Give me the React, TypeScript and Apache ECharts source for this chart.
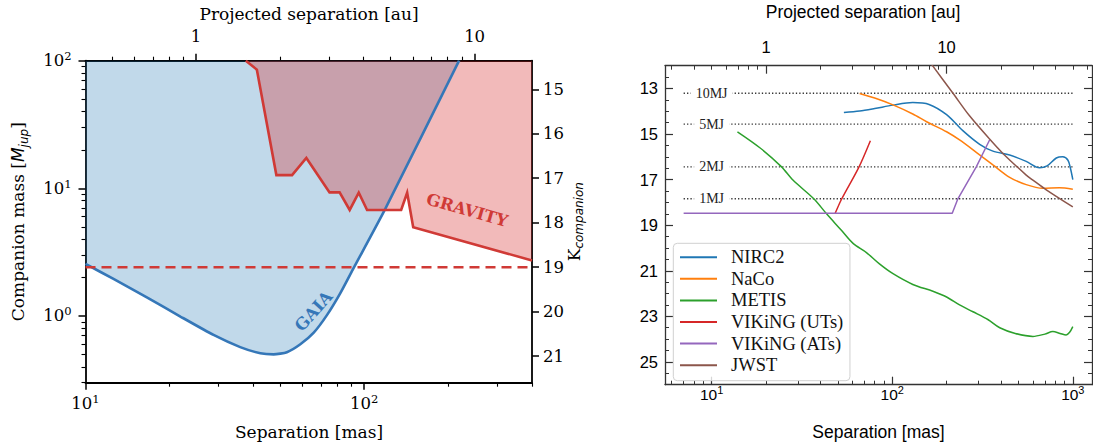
import React, { useEffect, useRef } from 'react';
import * as echarts from 'echarts';

const L = Math.log10;

// ---------- Left panel data ----------
const gaiaSep = [10, 12.6, 16.6, 21.9, 28.8, 35.9, 42.4, 47.3, 52.8, 59.0, 65.9, 73.6, 82.1, 91.6, 119, 219];
const gaiaMass = [2.56, 1.95, 1.40, 0.99, 0.71, 0.57, 0.51, 0.50, 0.52, 0.60, 0.74, 1.02, 1.51, 2.37, 6.9, 100];
const gravitySep = [37.6, 41.2, 48.4, 55.1, 62.0, 75.1, 81.6, 88.7, 95.6, 102.4, 135.7, 142.6, 149.9, 400];
const gravityMass = [100, 85.1, 12.7, 12.7, 17.3, 9.3, 9.3, 6.77, 9.24, 6.77, 6.77, 9.24, 4.96, 2.72];
const limitMass = 2.41;
const leftSepRange = [10, 400];
const leftMassRange = [0.3, 100];
const kRange = [14.357, 21.6];
const kTicks = [15, 16, 17, 18, 19, 20, 21];
const masPerAuLeft = 24.9;
const gaiaLabelAt = [65.9, 1.09];
const gravityLabelAt = [234, 6.74];

// ---------- Right panel data ----------
const nirc2Sep = [54, 66, 80, 101, 130, 160, 200, 246, 305, 361, 447, 552, 655, 720, 810, 880, 940, 970, 1000];
const nirc2Mag = [14.05, 13.99, 13.88, 13.73, 13.62, 13.7, 14.15, 14.85, 15.45, 15.75, 15.92, 16.2, 16.48, 16.4, 16.05, 16.0, 16.15, 16.5, 17.0];
const nacoSep = [66, 80, 101, 130, 155, 200, 236, 292, 361, 447, 552, 682, 843, 1000];
const nacoMag = [13.22, 13.42, 13.72, 14.12, 14.46, 14.9, 15.26, 15.8, 16.35, 16.9, 17.22, 17.38, 17.36, 17.42];
const metisSep = [13.9, 18.5, 24.4, 28.2, 36.8, 43.3, 52, 60.7, 72, 85, 101, 130, 168, 200, 236, 280, 340, 394, 480, 601, 700, 775, 850, 918, 960, 1000];
const metisMag = [14.9, 15.6, 16.44, 17.02, 17.84, 18.5, 19.2, 19.8, 20.2, 20.7, 21.13, 21.6, 21.9, 22.15, 22.5, 22.8, 23.15, 23.5, 23.75, 23.88, 23.78, 23.67, 23.75, 23.82, 23.7, 23.45];
const vikingUTSep = [48.2, 52.4, 65.3, 75.7];
const vikingUTMag = [18.5, 17.86, 16.46, 15.29];
const vikingATSep = [7, 215, 231, 292, 346];
const vikingATMag = [18.48, 18.48, 17.84, 16.44, 15.26];
const jwstSep = [150, 168, 217, 268, 346, 410, 552, 601, 713, 1000];
const jwstMag = [11.5, 12.02, 13.21, 14.2, 15.22, 15.85, 16.8, 17.02, 17.45, 18.2];
const mjNames = ['10MJ', '5MJ', '2MJ', '1MJ'];
const mjMags = [13.21, 14.56, 16.44, 17.84];
const mjSepRange = [7, 1000];
const mjLabelSep = 10;
const rightSepRange = [5.52, 1277];
const rightMagRange = [12, 26];
const magMajorTicks = [13, 15, 17, 19, 21, 23, 25];
const masPerAuRight = 20;

const instruments = [
  { name: 'NIRC2', sep: nirc2Sep, mag: nirc2Mag, color: '#1f77b4', smooth: 0.3 },
  { name: 'NaCo', sep: nacoSep, mag: nacoMag, color: '#ff7f0e', smooth: 0.3 },
  { name: 'METIS', sep: metisSep, mag: metisMag, color: '#2ca02c', smooth: 0.3 },
  { name: 'VIKiNG (UTs)', sep: vikingUTSep, mag: vikingUTMag, color: '#d62728', smooth: 0.3 },
  { name: 'VIKiNG (ATs)', sep: vikingATSep, mag: vikingATMag, color: '#9467bd', smooth: false },
  { name: 'JWST', sep: jwstSep, mag: jwstMag, color: '#8c564b', smooth: 0.3 },
];

// ---------- helpers ----------
const pairs = (xs: number[], ys: number[]) => xs.map((x, i) => [x, ys[i]]);
function decades(lo: number, hi: number) {
  const out: number[] = [];
  for (let e = Math.floor(L(lo)) - 1; e <= Math.ceil(L(hi)) + 1; e++) {
    const v = Math.pow(10, e);
    if (v >= lo * 0.99999 && v <= hi * 1.00001) out.push(L(v));
  }
  return out;
}
function minors(lo: number, hi: number) {
  const out: number[] = [];
  for (let e = Math.floor(L(lo)) - 1; e <= Math.ceil(L(hi)) + 1; e++) {
    for (let k = 2; k <= 9; k++) {
      const v = k * Math.pow(10, e);
      if (v >= lo * 0.99999 && v <= hi * 1.00001) out.push(L(v));
    }
  }
  return out;
}
function magMinors(lo: number, hi: number) {
  const out: number[] = [];
  for (let v = lo; v <= hi + 1e-9; v += 0.5) {
    if (!magMajorTicks.includes(v)) out.push(v);
  }
  return out;
}

const leftFont = "'DejaVu Serif', serif";
const rightFont = "'Liberation Sans', Arial, Helvetica, sans-serif";
const legendFont = "'Liberation Serif', 'Times New Roman', serif";

const supRich = (family: string, size: number, sub: number, raise: number) => ({
  b: { fontFamily: family, fontSize: size, lineHeight: size, verticalAlign: 'bottom', color: '#000' },
  s: { fontFamily: family, fontSize: sub, lineHeight: sub, padding: [0, 0, raise, 0], verticalAlign: 'bottom', color: '#000' },
});
const supFmt = (v: number) => `{b|10}{s|${Math.round(v)}}`;

const blackLine = { color: '#000', width: 1.8 };
const greyLine = { color: '#333', width: 1.3 };

function decoAxis(o: any) {
  const {
    gridIndex, position, min, max, ticks, tickLen, inside, line, labels, labelCfg, tickWidth, inverse,
  } = o;
  return {
    gridIndex, type: 'value', position, min, max, inverse: !!inverse, offset: 0,
    axisLine: line ? { show: true, onZero: false, lineStyle: line } : { show: false, onZero: false },
    axisTick: { show: true, customValues: ticks, length: tickLen, inside: !!inside, lineStyle: { color: o.tickColor || '#000', width: tickWidth || 1.2 } },
    axisLabel: labels ? { show: true, customValues: labels, ...labelCfg } : { show: false },
    splitLine: { show: false },
    silent: true,
  };
}

const titleText = (id: string, x: number, y: number, text: string, font: string, size: number, rotation = 0, rich?: any) => ({
  id, type: 'text', x, y, rotation, silent: true,
  style: { text, fontFamily: font, fontSize: size, fill: '#000', align: 'center', verticalAlign: 'middle', rich },
});

function buildOption() {
  const lx = [L(leftSepRange[0]), L(leftSepRange[1])];
  const ly = [L(leftMassRange[0]), L(leftMassRange[1])];
  const lau = [L(leftSepRange[0] / masPerAuLeft), L(leftSepRange[1] / masPerAuLeft)];
  const rx = [L(rightSepRange[0]), L(rightSepRange[1])];
  const rau = [L(rightSepRange[0] / masPerAuRight), L(rightSepRange[1] / masPerAuRight)];

  const xAxis: any[] = [
    { gridIndex: 0, type: 'log', min: leftSepRange[0], max: leftSepRange[1], show: false },
    decoAxis({ gridIndex: 0, position: 'bottom', min: lx[0], max: lx[1], ticks: decades(leftSepRange[0], leftSepRange[1]), tickLen: 7, line: blackLine, tickWidth: 1.5,
      labels: decades(leftSepRange[0], leftSepRange[1]), labelCfg: { margin: 13, formatter: supFmt, rich: supRich(leftFont, 16.5, 11.5, 7) } }),
    decoAxis({ gridIndex: 0, position: 'bottom', min: lx[0], max: lx[1], ticks: minors(leftSepRange[0], leftSepRange[1]), tickLen: 4, tickWidth: 1.1 }),
    decoAxis({ gridIndex: 0, position: 'top', min: lau[0], max: lau[1], ticks: decades(leftSepRange[0] / masPerAuLeft, leftSepRange[1] / masPerAuLeft), tickLen: 7, line: blackLine, tickWidth: 1.5,
      labels: decades(leftSepRange[0] / masPerAuLeft, leftSepRange[1] / masPerAuLeft),
      labelCfg: { margin: 16, formatter: (v: number) => String(Math.round(Math.pow(10, v))), fontFamily: leftFont, fontSize: 16.5, lineHeight: 16, color: '#000' } }),
    decoAxis({ gridIndex: 0, position: 'top', min: lau[0], max: lau[1], ticks: minors(leftSepRange[0] / masPerAuLeft, leftSepRange[1] / masPerAuLeft), tickLen: 4, tickWidth: 1.1 }),
    { gridIndex: 1, type: 'log', min: rightSepRange[0], max: rightSepRange[1], show: false },
    decoAxis({ gridIndex: 1, position: 'bottom', min: rx[0], max: rx[1], ticks: decades(rightSepRange[0], rightSepRange[1]), tickLen: 8, inside: true, line: greyLine, tickColor: '#333',
      labels: decades(rightSepRange[0], rightSepRange[1]), labelCfg: { margin: 2, formatter: supFmt, rich: supRich(rightFont, 15.5, 11, 7) } }),
    decoAxis({ gridIndex: 1, position: 'bottom', min: rx[0], max: rx[1], ticks: minors(rightSepRange[0], rightSepRange[1]), tickLen: 4, inside: true, tickColor: '#333', tickWidth: 1 }),
    decoAxis({ gridIndex: 1, position: 'top', min: rau[0], max: rau[1], ticks: decades(rightSepRange[0] / masPerAuRight, rightSepRange[1] / masPerAuRight), tickLen: 8, inside: true, line: greyLine, tickColor: '#333',
      labels: decades(rightSepRange[0] / masPerAuRight, rightSepRange[1] / masPerAuRight),
      labelCfg: { margin: 11, formatter: (v: number) => String(Math.round(Math.pow(10, v))), fontFamily: rightFont, fontSize: 16.5, lineHeight: 16, color: '#000' } }),
    decoAxis({ gridIndex: 1, position: 'top', min: rau[0], max: rau[1], ticks: minors(rightSepRange[0] / masPerAuRight, rightSepRange[1] / masPerAuRight), tickLen: 4, inside: true, tickColor: '#333', tickWidth: 1 }),
  ];

  const yAxis: any[] = [
    { gridIndex: 0, type: 'log', min: leftMassRange[0], max: leftMassRange[1], show: false },
    decoAxis({ gridIndex: 0, position: 'left', min: ly[0], max: ly[1], ticks: decades(leftMassRange[0], leftMassRange[1]), tickLen: 7, line: blackLine, tickWidth: 1.5,
      labels: decades(leftMassRange[0], leftMassRange[1]), labelCfg: { margin: 14, formatter: supFmt, rich: supRich(leftFont, 16.5, 11.5, 7) } }),
    decoAxis({ gridIndex: 0, position: 'left', min: ly[0], max: ly[1], ticks: minors(leftMassRange[0], leftMassRange[1]), tickLen: 4, tickWidth: 1.1 }),
    decoAxis({ gridIndex: 0, position: 'right', min: kRange[0], max: kRange[1], inverse: true, ticks: kTicks, tickLen: 7, line: blackLine, tickWidth: 1.5,
      labels: kTicks, labelCfg: { margin: 11, fontFamily: leftFont, fontSize: 16.5, color: '#000' } }),
    decoAxis({ gridIndex: 1, position: 'left', min: rightMagRange[0], max: rightMagRange[1], inverse: true, ticks: magMajorTicks, tickLen: 8, inside: true, line: greyLine, tickColor: '#333',
      labels: magMajorTicks, labelCfg: { margin: 7, fontFamily: rightFont, fontSize: 16.5, color: '#000' } }),
    decoAxis({ gridIndex: 1, position: 'left', min: rightMagRange[0], max: rightMagRange[1], inverse: true, ticks: magMinors(rightMagRange[0], rightMagRange[1]), tickLen: 4, inside: true, tickColor: '#333', tickWidth: 1 }),
    decoAxis({ gridIndex: 1, position: 'right', min: rightMagRange[0], max: rightMagRange[1], inverse: true, ticks: magMajorTicks, tickLen: 8, inside: true, line: greyLine, tickColor: '#333' }),
    decoAxis({ gridIndex: 1, position: 'right', min: rightMagRange[0], max: rightMagRange[1], inverse: true, ticks: magMinors(rightMagRange[0], rightMagRange[1]), tickLen: 4, inside: true, tickColor: '#333', tickWidth: 1 }),
  ];

  const series: any[] = [
    {
      name: 'GAIA', type: 'line', xAxisIndex: 0, yAxisIndex: 0, data: pairs(gaiaSep, gaiaMass), symbol: 'none', smooth: 0.2,
      lineStyle: { color: '#3577b8', width: 2.6 }, areaStyle: { origin: 'end', color: 'rgba(31,119,180,0.28)', opacity: 1 }, silent: true,
    },
    {
      name: 'GRAVITY', type: 'line', xAxisIndex: 0, yAxisIndex: 0, data: pairs(gravitySep, gravityMass), symbol: 'none',
      lineStyle: { color: '#d03a36', width: 2.6, join: 'miter' }, areaStyle: { origin: 'end', color: 'rgba(214,39,40,0.32)', opacity: 1 }, silent: true,
    },
    {
      name: 'limit', type: 'line', xAxisIndex: 0, yAxisIndex: 0, data: [[leftSepRange[0], limitMass], [leftSepRange[1], limitMass]], symbol: 'none',
      lineStyle: { color: '#d03a36', width: 2.6, type: [10, 6] }, silent: true,
    },
  ];

  mjMags.forEach((m, i) => {
    series.push({
      name: 'mj' + i, type: 'line', xAxisIndex: 5, yAxisIndex: 4, data: [[mjSepRange[0], m], [mjSepRange[1], m]], symbol: 'none',
      lineStyle: { color: '#333', width: 1.3, type: [1.3, 2.1] }, silent: true,
    });
  });
  instruments.forEach((s) => {
    series.push({
      name: s.name, type: 'line', xAxisIndex: 5, yAxisIndex: 4, data: pairs(s.sep, s.mag), symbol: 'none', smooth: s.smooth,
      lineStyle: { color: s.color, width: 1.5 }, itemStyle: { color: s.color }, silent: true,
    });
  });

  const graphic = [
    titleText('t1', 309, 13.5, 'Projected separation [au]', leftFont, 17),
    titleText('t2', 309, 431.5, 'Separation [mas]', leftFont, 17),
    titleText('t3', 19.5, 221.7, '{a|Companion mass [}{m|M}{s|jup}{a|]}', leftFont, 17, Math.PI / 2, {
      a: { fontFamily: leftFont, fontSize: 17, fill: '#000', lineHeight: 20, verticalAlign: 'top' },
      m: { fontFamily: "'DejaVu Sans', sans-serif", fontStyle: 'italic', fontSize: 17, fill: '#000', lineHeight: 20, verticalAlign: 'top' },
      s: { fontFamily: "'DejaVu Sans', sans-serif", fontStyle: 'italic', fontSize: 12, fill: '#000', lineHeight: 12, padding: [8, 0, 0, 0], verticalAlign: 'top' },
    }),
    titleText('t4', 575, 221.7, '{k|K}{s|companion}', leftFont, 17, Math.PI / 2, {
      k: { fontFamily: leftFont, fontSize: 17, fill: '#000', lineHeight: 20, verticalAlign: 'top' },
      s: { fontFamily: "'DejaVu Sans', sans-serif", fontStyle: 'italic', fontSize: 12, fill: '#000', lineHeight: 12, padding: [8, 0, 0, 0], verticalAlign: 'top' },
    }),
    titleText('t5', 863, 11.7, 'Projected separation [au]', rightFont, 17.5),
    titleText('t6', 878.5, 431.5, 'Separation [mas]', rightFont, 17.5),
  ];

  return {
    animation: false,
    backgroundColor: '#fff',
    grid: [
      { left: 85.5, top: 60.7, width: 446.5, height: 322 },
      { left: 665, top: 65.7, width: 427, height: 319 },
    ],
    xAxis, yAxis, series, graphic,
    legend: {
      data: instruments.map((s) => s.name),
      orient: 'vertical', left: 673.3, top: 243.3, selectedMode: false,
      icon: 'rect', itemWidth: 37, itemHeight: 2, itemGap: 2.6,
      padding: [4.4, 6.7, 6, 6.7],
      backgroundColor: 'rgba(255,255,255,0.8)', borderColor: '#d0d0d0', borderWidth: 1, borderRadius: 4,
      textStyle: { fontFamily: legendFont, fontSize: 18.5, lineHeight: 18, color: '#111', padding: [0, 0, 0, 9] },
    },
  };
}

function annotations(chart: any) {
  const out: any[] = [];
  const g = chart.convertToPixel({ xAxisIndex: 0, yAxisIndex: 0 }, gaiaLabelAt);
  const r = chart.convertToPixel({ xAxisIndex: 0, yAxisIndex: 0 }, gravityLabelAt);
  out.push({
    id: 'gaiaLbl', type: 'text', x: g[0], y: g[1], rotation: (48 * Math.PI) / 180, silent: true, z: 100,
    style: { text: 'GAIA', fontFamily: leftFont, fontWeight: 'bold', fontSize: 16.5, fill: '#3577b8', align: 'center', verticalAlign: 'middle' },
  });
  out.push({
    id: 'gravLbl', type: 'text', x: r[0], y: r[1], rotation: (-16 * Math.PI) / 180, silent: true, z: 100,
    style: { text: 'GRAVITY', fontFamily: leftFont, fontWeight: 'bold', fontSize: 16.5, fill: '#d03a36', align: 'center', verticalAlign: 'middle' },
  });
  mjMags.forEach((m, i) => {
    const p = chart.convertToPixel({ xAxisIndex: 5, yAxisIndex: 4 }, [mjLabelSep, m]);
    out.push({
      id: 'mj' + i, type: 'text', x: p[0], y: p[1], silent: true, z: 100,
      style: {
        text: mjNames[i], fontFamily: legendFont, fontSize: 14, fill: '#222', align: 'center', verticalAlign: 'middle',
        backgroundColor: '#fff', padding: [1, 5, 1, 5],
      },
    });
  });
  return out;
}

export default function App() {
  const ref = useRef<HTMLDivElement>(null);
  useEffect(() => {
    const chart = echarts.init(ref.current!, null, { renderer: 'svg' });
    const opt: any = buildOption();
    chart.setOption(opt);
    chart.setOption({ graphic: [...opt.graphic, ...annotations(chart)] });
    return () => chart.dispose();
  }, []);
  return <div ref={ref} style={{ position: 'fixed', left: 0, top: 0, width: 1093, height: 444, background: '#fff' }} />;
}
